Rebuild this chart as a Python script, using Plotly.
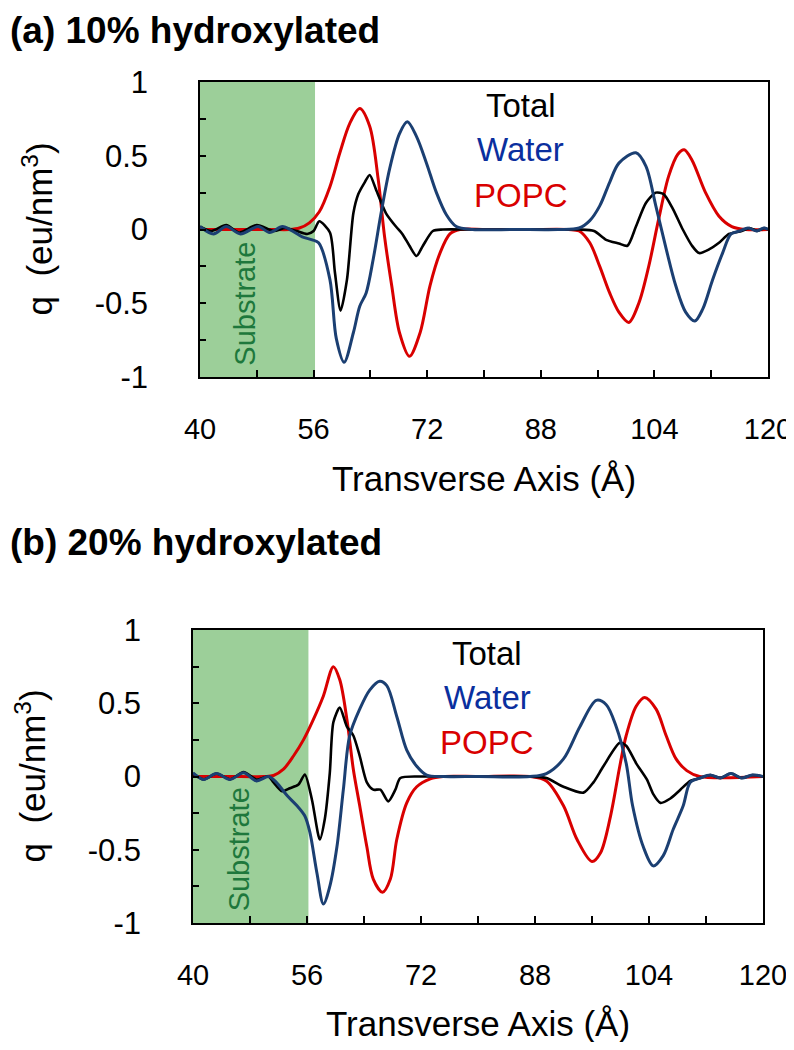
import plotly.graph_objects as go

# ---------------- data ----------------
# Panel (a) 10% hydroxylated
a_total_x = [40.0, 41.6, 43.7, 45.5, 48.0, 50.4, 52.0, 53.6, 55.1, 56.0, 56.8, 58.3, 59.0, 59.8, 60.7,
             61.6, 62.3, 63.2, 63.9, 64.8, 66.2, 67.6, 68.5, 69.5, 70.5, 71.4, 72.8, 74.2, 78.3, 84.4,
             90.4, 93.4, 95.5, 97.2, 99.0, 100.2, 101.4, 102.8, 104.2, 105.3, 106.6, 108.0, 109.3, 110.3,
             111.7, 113.1, 114.5, 116.3, 117.4, 118.5, 119.5, 120.0]
a_total_y = [0.02, -0.01, 0.03, -0.02, 0.03, -0.01, 0.01, -0.01, -0.03, -0.01, 0.056, -0.02, -0.29, -0.55, -0.34,
             0.11, 0.24, 0.32, 0.37, 0.27, 0.11, 0.02, -0.03, -0.11, -0.18, -0.11, -0.01, 0.0, 0.0, 0.0,
             0.0, 0.0, -0.01, -0.07, -0.095, -0.11, 0.02, 0.18, 0.25, 0.24, 0.14, 0.0, -0.11, -0.16,
             -0.135, -0.09, -0.03, -0.01, 0.01, -0.01, 0.01, 0.0]

a_water_x = [40.0, 41.9, 43.7, 45.7, 48.2, 49.8, 51.6, 53.0, 54.4, 55.8, 56.7, 58.3, 59.2, 60.3, 61.6,
             62.5, 63.4, 64.4, 65.5, 66.7, 68.1, 69.2, 70.5, 71.9, 73.3, 74.7, 76.1, 78.4, 84.4, 90.4,
             93.4, 94.9, 96.3, 97.7, 99.0, 101.4, 102.8, 104.2, 105.7, 107.0, 108.4, 109.7, 110.8, 112.2,
             113.6, 114.8, 116.0, 117.2, 118.4, 119.4, 120.0]
a_water_y = [0.02, -0.03, 0.02, -0.03, 0.02, -0.02, 0.02, -0.01, -0.05, -0.07, -0.09, -0.34, -0.74, -0.90, -0.70,
             -0.52, -0.43, -0.20, 0.11, 0.41, 0.65, 0.73, 0.63, 0.45, 0.25, 0.10, 0.02, 0.0, 0.0, 0.0,
             0.01, 0.06, 0.16, 0.32, 0.45, 0.52, 0.43, 0.16, -0.14, -0.38, -0.56, -0.62, -0.54, -0.34,
             -0.16, -0.03, -0.01, 0.01, -0.01, 0.01, 0.0]

a_popc_x = [40.0, 45.0, 50.1, 52.6, 54.0, 55.4, 56.8, 58.3, 59.7, 61.1, 62.5, 63.9, 65.1, 66.0, 67.0,
            68.1, 69.5, 71.0, 72.4, 73.8, 75.2, 76.6, 80.3, 86.4, 91.9, 93.4, 94.9, 96.3, 97.7, 99.0,
            100.4, 101.8, 103.2, 104.6, 106.0, 107.3, 108.2, 109.3, 111.2, 113.1, 114.9, 116.8, 120.0]
a_popc_y = [0.0, 0.0, 0.0, 0.0, 0.01, 0.045, 0.12, 0.29, 0.52, 0.72, 0.82, 0.70, 0.34, -0.05, -0.38,
            -0.70, -0.86, -0.70, -0.38, -0.16, -0.03, 0.0, 0.0, 0.0, 0.0, -0.01, -0.09, -0.25, -0.43, -0.56,
            -0.63, -0.50, -0.25, 0.07, 0.36, 0.51, 0.54, 0.47, 0.25, 0.09, 0.02, 0.0, 0.0]

# Panel (b) 20% hydroxylated
b_total_x = [40.0, 41.5, 43.3, 45.2, 47.1, 48.9, 50.6, 51.3, 52.5, 53.6, 54.8, 55.7, 56.7, 57.8, 58.5,
             59.2, 59.7, 60.6, 61.6, 62.5, 63.4, 64.4, 65.3, 66.3, 67.4, 68.4, 69.1, 72.3, 80.0, 87.3,
             89.6, 92.0, 94.8, 96.2, 97.6, 99.9, 100.8, 102.2, 103.7, 104.6, 105.6, 107.0, 108.4, 109.8,
             111.2, 112.6, 114.0, 115.5, 117.0, 118.5, 120.0]
b_total_y = [0.02, -0.02, 0.02, -0.02, 0.03, -0.02, 0.0, -0.04, -0.10, -0.08, -0.055, 0.014, -0.16, -0.43, -0.29,
             0.025, 0.37, 0.47, 0.34, 0.28, 0.14, -0.04, -0.09, -0.09, -0.17, -0.09, -0.01, 0.0, 0.0, 0.0,
             -0.01, -0.07, -0.11, -0.04, 0.07, 0.23, 0.21, 0.09, -0.02, -0.12, -0.18, -0.15, -0.09, -0.03,
             -0.01, 0.01, -0.01, 0.02, -0.01, 0.01, 0.0]

b_water_x = [40.0, 41.5, 43.3, 45.2, 47.1, 48.9, 50.6, 51.7, 53.2, 54.6, 55.7, 56.4, 57.4, 58.3, 59.2,
             60.2, 61.1, 62.0, 63.4, 64.8, 66.2, 67.2, 68.6, 70.0, 71.4, 72.8, 75.1, 80.0, 87.3, 89.6,
             92.0, 94.3, 96.6, 98.0, 99.4, 100.8, 101.7, 103.2, 104.6, 106.0, 107.4, 108.8, 109.8, 111.2,
             112.6, 114.0, 115.5, 117.0, 118.5, 120.0]
b_water_y = [0.025, -0.02, 0.02, -0.02, 0.025, -0.03, 0.0, -0.04, -0.13, -0.20, -0.27, -0.38, -0.66, -0.87, -0.75,
             -0.48, -0.09, 0.28, 0.46, 0.59, 0.65, 0.62, 0.41, 0.18, 0.07, 0.01, 0.0, 0.0, 0.0, 0.02,
             0.12, 0.34, 0.52, 0.49, 0.34, 0.09, -0.20, -0.48, -0.61, -0.54, -0.36, -0.20, -0.04, -0.01,
             0.01, -0.01, 0.02, -0.01, 0.01, 0.0]

b_popc_x = [40.0, 45.0, 50.0, 51.3, 52.7, 54.1, 55.5, 56.9, 58.3, 59.7, 60.6, 61.6, 62.5, 63.4, 64.4,
            65.3, 66.6, 67.7, 68.6, 70.0, 71.4, 73.3, 75.1, 80.0, 87.3, 89.6, 92.0, 93.9, 96.0, 97.2,
            98.6, 99.9, 100.8, 102.2, 103.4, 105.0, 106.4, 107.8, 109.3, 111.1, 120.0]
b_popc_y = [0.0, 0.0, 0.0, 0.007, 0.05, 0.14, 0.25, 0.39, 0.55, 0.75, 0.66, 0.39, 0.05, -0.20, -0.48,
            -0.70, -0.79, -0.70, -0.43, -0.18, -0.07, -0.016, 0.0, 0.0, 0.0, -0.03, -0.20, -0.43, -0.58, -0.52,
            -0.27, 0.07, 0.28, 0.48, 0.54, 0.46, 0.28, 0.12, 0.04, 0.0, 0.0]

panel_titles = ["(a) 10% hydroxylated", "(b) 20% hydroxylated"]
substrate_end = [56.2, 56.2]
x_ticks = [40, 56, 72, 88, 104, 120]
y_ticks = [-1, -0.5, 0, 0.5, 1]
y_tick_text = ["-1", "-0.5", "0", "0.5", "1"]
legend_names = ["Total", "Water", "POPC"]

# ---------------- styling ----------------
FONT = "Liberation Sans, Arial, sans-serif"
C_TOTAL = "#000000"
C_WATER_LINE = "#1b3f72"
C_WATER_TEXT = "#0a2f9e"
C_POPC = "#d90000"
C_GREEN = "rgb(156,207,153)"
C_GREEN_TXT = "rgb(30,120,60)"

# the page body has an 8px margin; the figure is sized so the page does not overflow the 794x1050 window
OFF = 8
W, H = 794 - OFF, 1050 - 2 * OFF


def fx(p):
    return (p - OFF) / W


def fy(p):
    return 1 - (p - OFF) / H


# panel boxes in window pixels: (left, right, top, bottom)
boxes = [(200, 768, 82, 377), (193, 763, 630, 923)]

fig = go.Figure()
panels = [
    (a_total_x, a_total_y, a_water_x, a_water_y, a_popc_x, a_popc_y),
    (b_total_x, b_total_y, b_water_x, b_water_y, b_popc_x, b_popc_y),
]

for i, (tx, ty, wx, wy, px, py) in enumerate(panels):
    xa = "x" if i == 0 else "x2"
    ya = "y" if i == 0 else "y2"
    fig.add_trace(go.Scatter(x=px, y=py, mode="lines", line=dict(color=C_POPC, width=3, shape="spline", smoothing=0.9),
                             xaxis=xa, yaxis=ya, showlegend=False, name="POPC"))
    fig.add_trace(go.Scatter(x=tx, y=ty, mode="lines", line=dict(color=C_TOTAL, width=2.6, shape="spline", smoothing=0.7),
                             xaxis=xa, yaxis=ya, showlegend=False, name="Total"))
    fig.add_trace(go.Scatter(x=wx, y=wy, mode="lines", line=dict(color=C_WATER_LINE, width=3, shape="spline", smoothing=0.9),
                             xaxis=xa, yaxis=ya, showlegend=False, name="Water"))

axis_common = dict(showgrid=False, zeroline=False, showline=True, linecolor="black", linewidth=1.5,
                   mirror=True, ticks="inside", tickcolor="black", tickwidth=1.5, automargin=False,
                   ticklabeloverflow="allow")

layout = dict(width=W, height=H, margin=dict(l=0, r=0, t=0, b=0, autoexpand=False),
              paper_bgcolor="white", plot_bgcolor="white",
              font=dict(family=FONT, color="black"), showlegend=False)

annotations = []
shapes = []
for i, (l, r, t, b) in enumerate(boxes):
    sfx = "" if i == 0 else "2"
    layout["xaxis" + sfx] = dict(axis_common, domain=[fx(l), fx(r)], anchor="y" + sfx, range=[40, 120],
                                 tickvals=x_ticks, ticklen=7, tickfont=dict(size=29, family=FONT),
                                 ticklabelstandoff=25,
                                 minor=dict(dtick=8, tick0=40, ticks="inside", ticklen=7, tickwidth=1.5, tickcolor="black"))
    layout["yaxis" + sfx] = dict(axis_common, domain=[fy(b), fy(t)], anchor="x" + sfx, range=[-1, 1],
                                 tickvals=y_ticks, ticktext=y_tick_text, ticklen=6,
                                 tickfont=dict(size=31, family=FONT), ticklabelstandoff=44,
                                 minor=dict(dtick=0.25, tick0=0, ticks="inside", ticklen=6, tickwidth=1.5, tickcolor="black"))
    xr = "x" + sfx
    yr = "y" + sfx
    shapes.append(dict(type="rect", xref=xr, yref=yr + " domain", x0=40, x1=substrate_end[i], y0=0, y1=1,
                       fillcolor=C_GREEN, line=dict(width=0), layer="below"))
    # substrate label
    annotations.append(dict(x=46.4, y=-0.5, xref=xr, yref=yr, text="Substrate", textangle=-90, showarrow=False,
                            font=dict(size=29, color=C_GREEN_TXT, family=FONT)))
    # legend text
    lx = 85.2 if i == 0 else 81.3
    for name, col, yy in zip(legend_names, [C_TOTAL, C_WATER_TEXT, C_POPC], [0.84, 0.54, 0.23]):
        annotations.append(dict(x=lx, y=yy, xref=xr, yref=yr, text=name, showarrow=False,
                                font=dict(size=33, color=col, family=FONT)))
    # panel title
    if i == 0:
        annotations.append(dict(x=0, y=1, xref="paper", yref="paper", xanchor="left", yanchor="top",
                                text="<b>%s</b>" % panel_titles[i], showarrow=False,
                                font=dict(size=37, family=FONT, color="black")))
    else:
        annotations.append(dict(x=0, y=fy(542), xref="paper", yref="paper", xanchor="left", yanchor="middle",
                                text="<b>%s</b>" % panel_titles[i], showarrow=False,
                                font=dict(size=37, family=FONT, color="black")))
    # x axis title
    annotations.append(dict(x=fx((l + r) / 2), y=fy(b + 101), xref="paper", yref="paper",
                            xanchor="center", yanchor="middle", text="Transverse Axis (Å)", showarrow=False,
                            font=dict(size=35, family=FONT, color="black")))
    # y axis title
    annotations.append(dict(x=fx(37 - (0 if i == 0 else 7)), y=fy((t + b) / 2), xref="paper", yref="paper",
                            xanchor="center", yanchor="middle", text="q  (eu/nm<sup>3</sup>)", textangle=-90,
                            showarrow=False, font=dict(size=35, family=FONT, color="black")))

layout["annotations"] = annotations
layout["shapes"] = shapes
fig.update_layout(**layout)
fig.write_html("out.html")
